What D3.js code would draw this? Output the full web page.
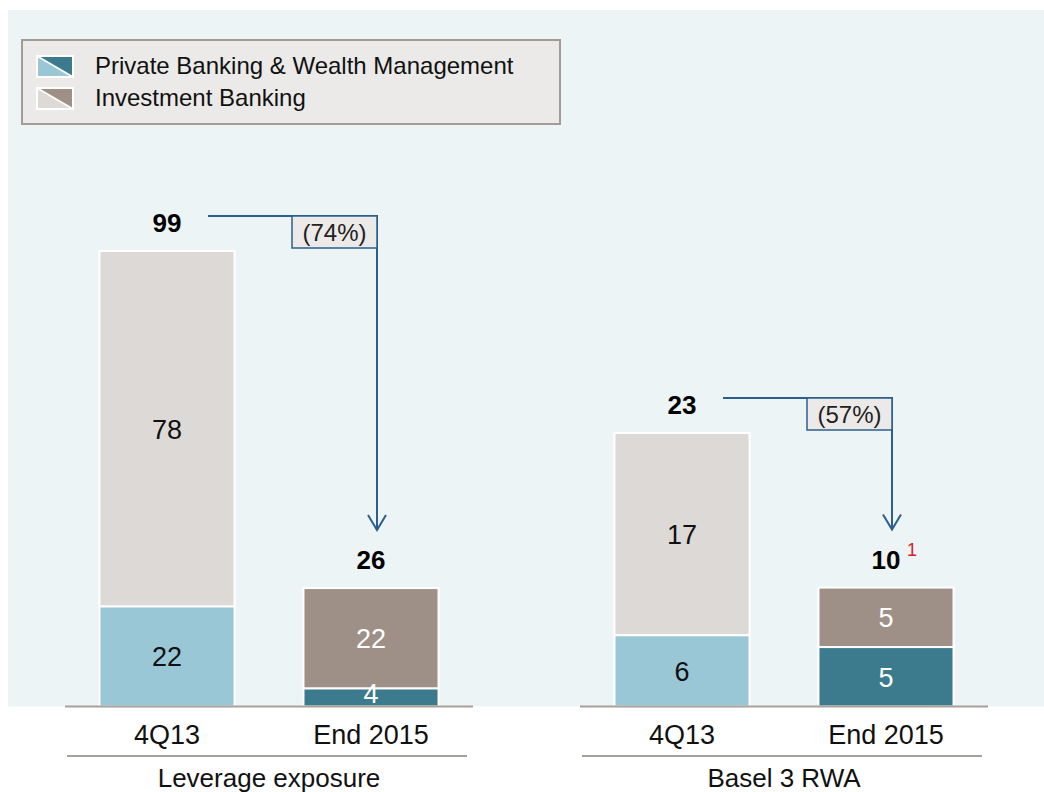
<!DOCTYPE html>
<html>
<head>
<meta charset="utf-8">
<script src="https://cdn.jsdelivr.net/npm/d3@7"></script>
<style>
  body { margin: 0; background: #fff; }
  svg { display: block; font-family: "Liberation Sans", Arial, sans-serif; }
</style>
</head>
<body>
<svg id="chart"></svg>
<script>
// data
var categories = ['4Q13', 'End 2015']
var groups = ['Leverage exposure', 'Basel 3 RWA']
var seriesNames = ['Private Banking & Wealth Management', 'Investment Banking']
var pbValues = [[22, 4], [6, 5]]       // Private Banking & WM, per group
var ibValues = [[78, 22], [17, 5]]     // Investment Banking, per group
var totals = [[99, 26], [23, 10]]
var changes = ['(74%)', '(57%)']
var footnotes = [null, '1']

var width = 1044, height = 792
var svg = d3.select('#chart').attr('width', width).attr('height', height)

// colours: light for 4Q13, dark for End 2015
var pbColors = ['#9ac7d6', '#3c7b8e']
var ibColors = ['#ddd9d6', '#9e9087']
var labelColors = ['#111', '#fff']
var arrowColor = '#2d5f8c'
var axisColor = '#a8a09a'

// background panel
svg.append('rect')
    .attr('x', 8).attr('y', 10)
    .attr('width', width - 8).attr('height', 696.5)
    .attr('fill', '#ecf4f6')

var baseY = 706.5
var panels = [[65, 473], [580, 988]]
var tops = [251, 433] // pixel top of the tallest stack in each panel

groups.forEach(function(g, gi) {
    var stacks = categories.map(function(c, ci) {
        return { cat: c, pb: pbValues[gi][ci], ib: ibValues[gi][ci], total: totals[gi][ci], ci: ci }
    })
    var maxSum = d3.max(stacks, function(d) { return d.pb + d.ib })

    var x = d3.scaleBand()
        .domain(categories)
        .range(panels[gi])
        .paddingInner(0.338)
        .paddingOuter(0.169)
    var y = d3.scaleLinear()
        .domain([0, maxSum])
        .range([baseY, tops[gi]])

    var panel = svg.append('g')

    // PB segments
    panel.selectAll('rect.pb')
        .data(stacks)
        .enter()
        .append('rect')
        .attr('class', 'pb')
        .attr('x', function(d) { return x(d.cat) })
        .attr('width', x.bandwidth())
        .attr('y', function(d) { return y(d.pb) })
        .attr('height', function(d) { return baseY - y(d.pb) })
        .attr('fill', function(d) { return pbColors[d.ci] })
        .attr('stroke', '#fff')
        .attr('stroke-width', 2)

    // IB segments
    panel.selectAll('rect.ib')
        .data(stacks)
        .enter()
        .append('rect')
        .attr('class', 'ib')
        .attr('x', function(d) { return x(d.cat) })
        .attr('width', x.bandwidth())
        .attr('y', function(d) { return y(d.pb + d.ib) })
        .attr('height', function(d) { return y(d.pb) - y(d.pb + d.ib) })
        .attr('fill', function(d) { return ibColors[d.ci] })
        .attr('stroke', '#fff')
        .attr('stroke-width', 2)

    // segment labels
    panel.selectAll('text.pbl')
        .data(stacks)
        .enter()
        .append('text')
        .attr('x', function(d) { return x(d.cat) + x.bandwidth() / 2 })
        .attr('y', function(d) { return (y(d.pb) + baseY) / 2 + 10 - (d.pb < 8 && gi == 0 ? 4 : 0) })
        .attr('text-anchor', 'middle')
        .attr('font-size', 27)
        .attr('fill', function(d) { return labelColors[d.ci] })
        .text(function(d) { return d.pb })

    panel.selectAll('text.ibl')
        .data(stacks)
        .enter()
        .append('text')
        .attr('x', function(d) { return x(d.cat) + x.bandwidth() / 2 })
        .attr('y', function(d) { return (y(d.pb) + y(d.pb + d.ib)) / 2 + 10 })
        .attr('text-anchor', 'middle')
        .attr('font-size', 27)
        .attr('fill', function(d) { return labelColors[d.ci] })
        .text(function(d) { return d.ib })

    // totals
    panel.selectAll('text.tot')
        .data(stacks)
        .enter()
        .append('text')
        .attr('x', function(d) { return x(d.cat) + x.bandwidth() / 2 })
        .attr('y', function(d) { return y(d.pb + d.ib) - 19 })
        .attr('text-anchor', 'middle')
        .attr('font-size', 26)
        .attr('font-weight', 'bold')
        .attr('fill', '#000')
        .text(function(d) { return d.total })

    if (footnotes[gi]) {
        var last = stacks[1]
        panel.append('text')
            .attr('x', x(last.cat) + x.bandwidth() / 2 + 21)
            .attr('y', y(last.pb + last.ib) - 32)
            .attr('font-size', 18)
            .attr('fill', '#d0232a')
            .text(footnotes[gi])
    }

    // change arrow
    var first = stacks[0], second = stacks[1]
    var lineY = y(first.pb + first.ib) - 35
    var x0 = x(first.cat) + x.bandwidth() / 2 + 41
    var x1 = x(second.cat) + x.bandwidth() / 2 + 6
    var tipY = y(second.pb + second.ib) - 58

    panel.append('path')
        .attr('d', 'M' + x0 + ',' + lineY + 'H' + x1 + 'V' + tipY)
        .attr('fill', 'none')
        .attr('stroke', arrowColor)
        .attr('stroke-width', 2)
    panel.append('path')
        .attr('d', 'M' + (x1 - 9) + ',' + (tipY - 15) + 'L' + x1 + ',' + tipY + 'L' + (x1 + 9) + ',' + (tipY - 15))
        .attr('fill', 'none')
        .attr('stroke', arrowColor)
        .attr('stroke-width', 2)

    panel.append('rect')
        .attr('x', x1 - 85).attr('y', lineY)
        .attr('width', 85).attr('height', 32)
        .attr('fill', '#ebeae8')
        .attr('stroke', arrowColor)
        .attr('stroke-width', 1.5)
    panel.append('text')
        .attr('x', x1 - 42.5).attr('y', lineY + 25)
        .attr('text-anchor', 'middle')
        .attr('font-size', 24)
        .attr('fill', '#222')
        .text(changes[gi])

    // baseline and category axis
    panel.append('line')
        .attr('x1', panels[gi][0]).attr('x2', panels[gi][1])
        .attr('y1', baseY).attr('y2', baseY)
        .attr('stroke', axisColor).attr('stroke-width', 2)

    var xAxis = panel.append('g')
        .attr('transform', 'translate(0,' + baseY + ')')
        .call(d3.axisBottom(x).tickSize(0).tickPadding(0))
    xAxis.select('.domain').remove()
    xAxis.selectAll('text')
        .attr('y', 37)
        .attr('dy', null)
        .attr('font-size', 27)
        .attr('font-family', '"Liberation Sans", Arial, sans-serif')
        .attr('fill', '#111')

    panel.append('line')
        .attr('x1', panels[gi][0] + 2).attr('x2', panels[gi][1] - 6)
        .attr('y1', 756).attr('y2', 756)
        .attr('stroke', axisColor).attr('stroke-width', 2)

    panel.append('text')
        .attr('x', (panels[gi][0] + panels[gi][1]) / 2)
        .attr('y', 787)
        .attr('text-anchor', 'middle')
        .attr('font-size', 26)
        .attr('fill', '#111')
        .text(g)
})

// legend
var legend = svg.append('g')
legend.append('rect')
    .attr('x', 22).attr('y', 40)
    .attr('width', 538).attr('height', 84)
    .attr('fill', '#ebeae8')
    .attr('stroke', '#a39c96')
    .attr('stroke-width', 2)

var legendColors = [pbColors, ibColors]
seriesNames.forEach(function(name, i) {
    var ly = 56 + i * 32
    var sx = 37, sw = 36, sh = 21
    var item = legend.append('g')
    item.append('rect')
        .attr('x', sx).attr('y', ly).attr('width', sw).attr('height', sh)
        .attr('fill', legendColors[i][0])
    item.append('path')
        .attr('d', 'M' + sx + ',' + ly + 'L' + (sx + sw) + ',' + ly + 'L' + (sx + sw) + ',' + (ly + sh) + 'Z')
        .attr('fill', legendColors[i][1])
    item.append('line')
        .attr('x1', sx).attr('y1', ly).attr('x2', sx + sw).attr('y2', ly + sh)
        .attr('stroke', '#fff').attr('stroke-width', 2)
    item.append('rect')
        .attr('x', sx).attr('y', ly).attr('width', sw).attr('height', sh)
        .attr('fill', 'none').attr('stroke', '#fff').attr('stroke-width', 2)
    item.append('text')
        .attr('x', 95).attr('y', ly + 18)
        .attr('font-size', 24)
        .attr('fill', '#111')
        .text(name)
})
</script>
</body>
</html>
